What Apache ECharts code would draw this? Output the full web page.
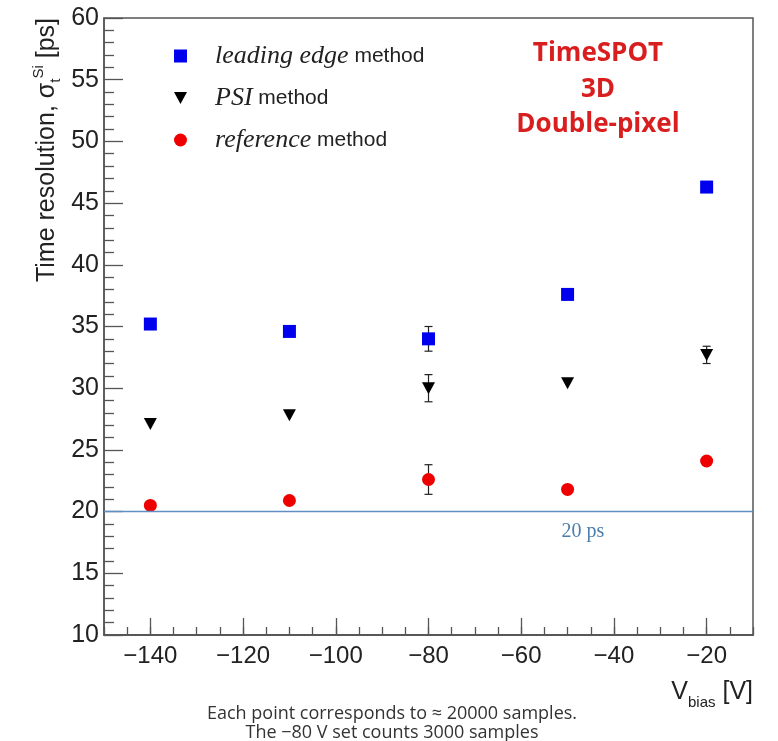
<!DOCTYPE html>
<html><head><meta charset="utf-8">
<script src="https://cdn.jsdelivr.net/npm/echarts@6/dist/echarts.min.js"></script>
<style>html,body{margin:0;padding:0;background:#fff}#c{width:778px;height:741px}</style>
</head><body><div id="c"></div>
<script>
// ---- data ----
const vbias = [-140, -110, -80, -50, -20];
const leadingEdge = [35.2, 34.6, 34.0, 37.6, 46.3];
const leadingEdgeErr = [null, null, 1.0, null, null];
const psi = [27.1, 27.8, 30.0, 30.4, 32.7];
const psiErr = [null, null, 1.1, null, 0.7];
const reference = [20.5, 20.9, 22.6, 21.8, 24.1];
const referenceErr = [null, null, 1.2, null, null];
const xMajorTicks = [-140, -120, -100, -80, -60, -40, -20];
const refLineValue = 20;
const refLineLabel = '20 ps';
const seriesNames = ['leading edge method', 'PSI method', 'reference method'];
const footnote = 'Each point corresponds to \u2248 20000 samples.\nThe \u221280 V set counts 3000 samples';
const tag = 'TimeSPOT\n3D\nDouble-pixel';

// ---- build ----
const pts = (xs, ys) => xs.map((x, i) => [x, ys[i]]);
const errPts = (xs, ys, es) => xs.map((x, i) => es[i] == null ? null : [x, ys[i], es[i]]).filter(Boolean);
const errData = [].concat(
  errPts(vbias, leadingEdge, leadingEdgeErr),
  errPts(vbias, psi, psiErr),
  errPts(vbias, reference, referenceErr)
);
const minus = v => (v < 0 ? '\u2212' + Math.abs(v) : String(v));
const TRI = 'path://M0,0L12,0L6,11Z';

function errRender(params, api) {
  const x = api.value(0), y = api.value(1), e = api.value(2);
  const t = api.coord([x, y + e]), b = api.coord([x, y - e]);
  const w = 4, st = { stroke: '#222', lineWidth: 1.2 };
  return { type: 'group', children: [
    { type: 'line', shape: { x1: t[0], y1: t[1], x2: b[0], y2: b[1] }, style: st },
    { type: 'line', shape: { x1: t[0] - w, y1: t[1], x2: t[0] + w, y2: t[1] }, style: st },
    { type: 'line', shape: { x1: b[0] - w, y1: b[1], x2: b[0] + w, y2: b[1] }, style: st }
  ]};
}

const axisFont = 'Liberation Sans, Arial, sans-serif';
const chart = echarts.init(document.getElementById('c'), null, { renderer: 'canvas' });
chart.setOption({
  backgroundColor: '#fff',
  animation: false,
  title: [
    { text: footnote, left: 392, top: 704, textAlign: 'center', padding: 0,
      textStyle: { fontFamily: 'Open Sans', fontSize: 18, fontWeight: 'normal', color: '#333', lineHeight: 19 } },
    { text: tag, left: 598, top: 36, textAlign: 'center', padding: 0,
      textStyle: { fontFamily: 'Open Sans', fontSize: 26, fontWeight: 'bold', color: '#d81e1e', lineHeight: 35.5 } }
  ],
  grid: { left: 104, right: 25, top: 18, bottom: 106, show: true, borderColor: '#555', borderWidth: 1.5,
          containLabel: false, outerBoundsMode: 'none' },
  legend: {
    orient: 'vertical', left: 174, top: 43, padding: 0, itemWidth: 13, itemHeight: 13, itemGap: 16,
    data: seriesNames,
    formatter: n => { const k = n.lastIndexOf(' method'); return '{i|' + n.slice(0, k) + '}{n| method}'; },
    textStyle: { rich: {
      i: { fontFamily: 'Liberation Serif', fontStyle: 'italic', fontSize: 26, color: '#222', lineHeight: 30, padding: [0, 0, 0, 23] },
      n: { fontFamily: axisFont, fontSize: 21, color: '#222', lineHeight: 30 }
    } }
  },
  xAxis: [
    { type: 'value', min: -150, max: -10, interval: 5, position: 'bottom',
      axisLine: { show: true, lineStyle: { color: '#555', width: 1.5 } },
      axisTick: { show: true, inside: true, length: 8, lineStyle: { color: '#555', width: 1.3 } },
      axisLabel: { show: false }, splitLine: { show: false } },
    { type: 'value', min: -150, max: -10, interval: 10, position: 'bottom',
      axisLine: { show: true, lineStyle: { color: '#555', width: 1.5 } },
      axisTick: { show: true, inside: true, length: 17, customValues: xMajorTicks, lineStyle: { color: '#555', width: 1.3 } },
      axisLabel: { show: true, customValues: xMajorTicks, formatter: minus, fontFamily: axisFont, fontSize: 24, color: '#222', margin: 9 },
      splitLine: { show: false },
      name: '{v|V}{s|bias}{v| [V]}', nameLocation: 'end', nameGap: 0,
      nameTextStyle: { align: 'right', verticalAlign: 'top', padding: [45, 0, 0, 0],
        rich: { v: { fontFamily: axisFont, fontSize: 25, color: '#222', lineHeight: 30, verticalAlign: 'top' },
                s: { fontFamily: axisFont, fontSize: 15, color: '#222', lineHeight: 30, verticalAlign: 'bottom' } } } }
  ],
  yAxis: {
    type: 'value', min: 10, max: 60, interval: 5,
    axisLine: { show: true, lineStyle: { color: '#555', width: 1.5 } },
    axisTick: { show: true, inside: true, length: 19, lineStyle: { color: '#555', width: 1.3 } },
    minorTick: { show: true, splitNumber: 5, length: 10, lineStyle: { color: '#555', width: 1.3 } },
    axisLabel: { fontFamily: axisFont, fontSize: 25, color: '#222', margin: 5 },
    splitLine: { show: false }
  },
  graphic: [
    { type: 'text', x: 47, y: 18, rotation: Math.PI / 2, z: 10,
      style: { text: '{a|Time resolution, \u03c3}{sub|t}{sup|Si}{a| [ps]}', align: 'right', verticalAlign: 'middle',
        rich: { a: { fontFamily: axisFont, fontSize: 25, fill: '#222', lineHeight: 32 },
                sub: { fontFamily: axisFont, fontSize: 15, fill: '#222', lineHeight: 32, verticalAlign: 'bottom' },
                sup: { fontFamily: axisFont, fontSize: 15, fill: '#222', lineHeight: 32, verticalAlign: 'top' } } } }
  ],
  series: [
    { type: 'custom', name: 'errors', renderItem: errRender, data: errData, xAxisIndex: 0, yAxisIndex: 0,
      encode: { x: 0, y: 1 }, z: 2, silent: true },
    { type: 'scatter', name: seriesNames[0], data: pts(vbias, leadingEdge), symbol: 'rect', symbolSize: 13,
      itemStyle: { color: '#0000ee', opacity: 1 }, z: 3 },
    { type: 'scatter', name: seriesNames[1], data: pts(vbias, psi), symbol: TRI, symbolSize: [13, 12],
      itemStyle: { color: '#000', opacity: 1 }, z: 3 },
    { type: 'scatter', name: seriesNames[2], data: pts(vbias, reference), symbol: 'circle', symbolSize: 13,
      itemStyle: { color: '#ee0000', opacity: 1 }, z: 3,
      markLine: { silent: true, symbol: 'none', label: { show: false },
        lineStyle: { color: '#5f8fc4', width: 1.3, type: 'solid', opacity: 1 },
        data: [[{ coord: [-150, refLineValue] }, { coord: [-10, refLineValue] }]] },
      markPoint: { silent: true, symbol: 'circle', symbolSize: 0,
        data: [{ coord: [-46.7, refLineValue], value: refLineValue }],
        label: { show: true, position: 'bottom', distance: 10, formatter: refLineLabel,
          fontFamily: 'Liberation Serif', fontSize: 20, color: '#4a7eae' } } }
  ]
});
</script>
</body></html>
